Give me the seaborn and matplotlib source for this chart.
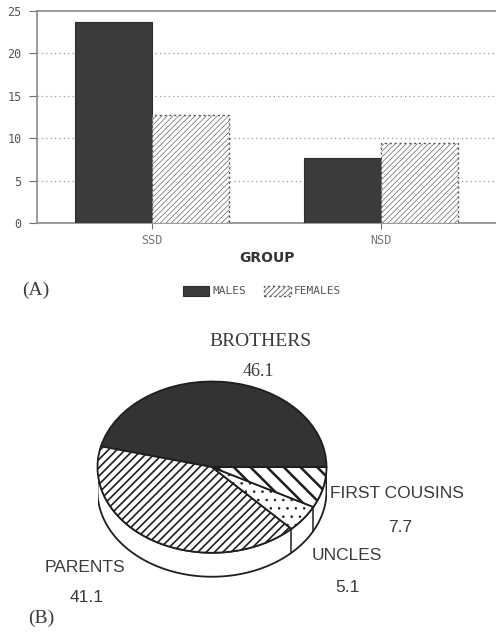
import numpy as np
import pandas as pd
import matplotlib
matplotlib.use("Agg")
import matplotlib.pyplot as plt
from matplotlib.patches import Polygon
import seaborn as sns

# ---- data -------------------------------------------------------------
groups = ["SSD", "NSD"]
males = [23.7, 7.7]
females = [12.7, 9.4]
sexes = ["MALES", "FEMALES"]
y_ticks = [0, 5, 10, 15, 20, 25]

relatives = ["BROTHERS", "PARENTS", "UNCLES", "FIRST COUSINS"]
shares = [46.1, 41.1, 5.1, 7.7]

# ---- figure -----------------------------------------------------------
W, H = 496, 634
sns.set_theme(style="white")
plt.rcParams["font.family"] = ["DejaVu Sans"]
plt.rcParams["hatch.linewidth"] = 0.6
fig = plt.figure(figsize=(W / 100, H / 100), dpi=100)
fig.patch.set_facecolor("white")


def fx(x):
    return x / W


def fy(y):
    return 1 - y / H


def box(x0, y0, x1, y1):
    return [fx(x0), fy(y1), fx(x1) - fx(x0), fy(y0) - fy(y1)]


grey = "#6f6f6f"
txt = "#3a3a3a"
mono = "DejaVu Sans Mono"

# ---- (A) bar chart ----------------------------------------------------
df = pd.DataFrame({
    "GROUP": groups * 2,
    "value": males + females,
    "sex": [sexes[0]] * len(groups) + [sexes[1]] * len(groups),
})

ax = fig.add_axes(box(37, 11, 496, 223))
sns.barplot(data=df, x="GROUP", y="value", hue="sex", order=groups,
            hue_order=sexes, palette=["#3b3b3b", "white"], width=0.67,
            gap=0, saturation=1, ax=ax, legend=False, zorder=3)

for bar in ax.containers[0]:
    bar.set_facecolor("#3b3b3b")
    bar.set_edgecolor("#2e2e2e")
    bar.set_linewidth(0.8)
for bar in ax.containers[1]:
    bar.set_facecolor("white")
    bar.set_edgecolor("#555555")
    bar.set_hatch("//////")
    bar.set_linestyle((0, (1.5, 2)))
    bar.set_linewidth(1.0)
    if hasattr(bar, "set_hatch_linewidth"):
        bar.set_hatch_linewidth(0.45)

ax.set_xlim(-0.5, 1.5)
ax.set_ylim(0, 25)
ax.set_yticks(y_ticks)
ax.set_yticklabels([str(v) for v in y_ticks], fontfamily=mono,
                   fontsize=8.5, color="#555555")
ax.set_xticks(range(len(groups)))
ax.set_xticklabels(groups, fontfamily=mono, fontsize=8.5, color="#777777")
ax.tick_params(axis="y", left=True, length=6, width=0.8, color=grey, pad=5)
ax.tick_params(axis="x", bottom=True, length=4, width=0.8, color=grey, pad=4)
ax.set_ylabel("")
ax.set_xlabel("GROUP", fontsize=10, fontweight="bold", color="#333333",
              labelpad=3)
for y in y_ticks[1:-1]:
    ax.axhline(y, color="#9a9a9a", lw=0.9, ls=(0, (1, 2.5)), zorder=1)
for side in ["left", "bottom", "top"]:
    ax.spines[side].set_visible(True)
    ax.spines[side].set_color("#8a8a8a")
    ax.spines[side].set_linewidth(1.2)
ax.spines["right"].set_visible(False)

leg = fig.legend(handles=[ax.containers[0][0], ax.containers[1][0]],
                 labels=sexes, loc="center", bbox_to_anchor=(fx(262), fy(291)),
                 ncol=2, frameon=False, handlelength=2.4, handleheight=1.0,
                 handletextpad=0.3, columnspacing=1.6, borderpad=0,
                 prop={"family": mono, "size": 8})
for t in leg.get_texts():
    t.set_color("#555555")

fig.text(fx(22), fy(290), "(A)", family="Liberation Serif", fontsize=14,
         color=txt, va="center", ha="left")

# ---- (B) pie chart ----------------------------------------------------
depth = 0.28
pax = fig.add_axes(box(97.5, 381.5, 326.5, 552.5 + depth * 85.5 + 2))
wedges, _ = pax.pie(shares, startangle=0, counterclock=True, radius=1,
                    wedgeprops={"linewidth": 1.3, "edgecolor": "#1e1e1e"})
pax.set_aspect("auto")
pax.set_xlim(-1, 1)
pax.set_ylim(-1 - depth - 0.02, 1)
pax.axis("off")

styles = [
    dict(facecolor="#333333", hatch=None, hlw=None),
    dict(facecolor="white", hatch="////", hlw=1.2),
    dict(facecolor="white", hatch="..", hlw=0.6),
    dict(facecolor="white", hatch="\\\\", hlw=1.8),
]
for w, st in zip(wedges, styles):
    w.set_facecolor(st["facecolor"])
    if st["hatch"]:
        w.set_hatch(st["hatch"])
        if hasattr(w, "set_hatch_linewidth"):
            w.set_hatch_linewidth(st["hlw"])
    w.set_zorder(3)

# side band of the front half, derived from the slice angles
theta = np.radians(np.linspace(180, 360, 200))
top = np.column_stack([np.cos(theta), np.sin(theta)])
bottom = top[::-1] - [0, depth]
side = Polygon(np.vstack([top, bottom]), closed=True, facecolor="white",
               edgecolor="#1e1e1e", linewidth=1.3, zorder=2)
pax.add_patch(side)
bounds = np.cumsum([0] + shares) / sum(shares) * 360
for b in bounds:
    a = np.radians(b % 360)
    if np.sin(a) < -1e-6 or abs(np.sin(a)) < 1e-6:
        x, y = np.cos(a), np.sin(a)
        pax.plot([x, x], [y, y - depth], color="#1e1e1e", lw=1.1, zorder=2)

serif = "Liberation Serif"
sans = "Liberation Sans"
fig.text(fx(260), fy(342), relatives[0], family=serif, fontsize=14,
         color=txt, ha="center", va="center")
fig.text(fx(258), fy(372), f"{shares[0]}", family=serif, fontsize=13,
         color=txt, ha="center", va="center")
fig.text(fx(330), fy(494), relatives[3], family=sans, fontsize=12.5,
         color=txt, ha="left", va="center")
fig.text(fx(400), fy(527), f"{shares[3]}", family=sans, fontsize=12.5,
         color=txt, ha="center", va="center")
fig.text(fx(312), fy(556), relatives[2], family=sans, fontsize=12.5,
         color=txt, ha="left", va="center")
fig.text(fx(347), fy(587), f"{shares[2]}", family=sans, fontsize=12.5,
         color=txt, ha="center", va="center")
fig.text(fx(45), fy(567), relatives[1], family=sans, fontsize=12.5,
         color=txt, ha="left", va="center")
fig.text(fx(87), fy(598), f"{shares[1]}", family=sans, fontsize=12.5,
         color=txt, ha="center", va="center")
fig.text(fx(28), fy(618), "(B)", family=serif, fontsize=14,
         color=txt, ha="left", va="center")

fig.savefig("out.png", dpi=100, facecolor="white")
